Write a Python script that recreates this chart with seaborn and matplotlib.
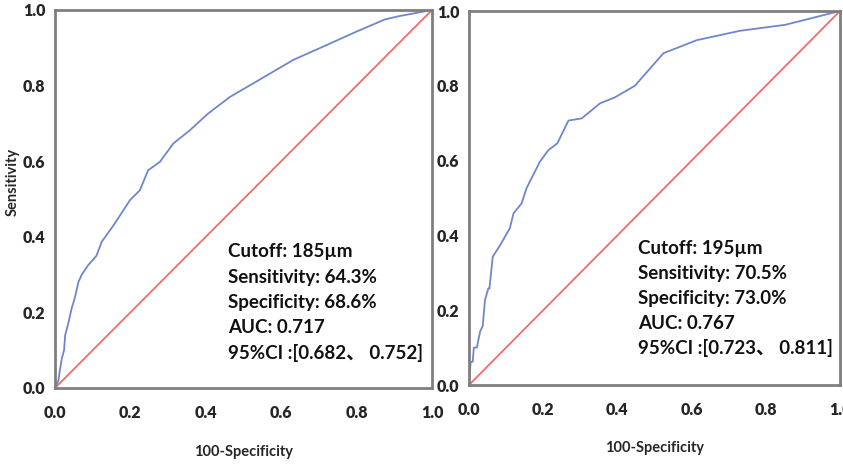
import matplotlib
matplotlib.use("Agg")
import matplotlib.pyplot as plt
import seaborn as sns
import pandas as pd

# ROC curve, left panel
fpr_left = [0.0, 0.009, 0.013, 0.018, 0.024, 0.027, 0.035, 0.044, 0.053, 0.062, 0.071,
            0.088, 0.11, 0.124, 0.155, 0.199, 0.225, 0.247, 0.278, 0.314, 0.358, 0.406,
            0.464, 0.526, 0.632, 0.711, 0.80, 0.875, 0.914, 1.0]
tpr_left = [0.0, 0.02, 0.047, 0.078, 0.10, 0.14, 0.17, 0.21, 0.24, 0.28, 0.30,
            0.325, 0.35, 0.387, 0.43, 0.497, 0.523, 0.576, 0.598, 0.647, 0.682, 0.726,
            0.77, 0.806, 0.868, 0.903, 0.943, 0.975, 0.984, 1.0]

# ROC curve, right panel
fpr_right = [0.0, 0.0045, 0.01, 0.013, 0.021, 0.03, 0.037, 0.043, 0.052, 0.055, 0.064,
             0.084, 0.11, 0.12, 0.142, 0.155, 0.191, 0.214, 0.238, 0.268, 0.304, 0.353,
             0.393, 0.447, 0.524, 0.614, 0.73, 0.852, 1.0]
tpr_right = [0.0, 0.062, 0.062, 0.10, 0.10, 0.143, 0.158, 0.227, 0.258, 0.258, 0.343,
             0.374, 0.419, 0.459, 0.486, 0.526, 0.597, 0.628, 0.646, 0.707, 0.713, 0.753,
             0.769, 0.80, 0.887, 0.922, 0.947, 0.963, 1.0]

text_left = ["Cutoff: 185µm", "Sensitivity: 64.3%", "Specificity: 68.6%",
             "AUC: 0.717", "95%CI :[0.682、 0.752]"]
text_right = ["Cutoff: 195µm", "Sensitivity: 70.5%", "Specificity: 73.0%",
              "AUC: 0.767", "95%CI :[0.723、 0.811]"]

ticks = [0.0, 0.2, 0.4, 0.6, 0.8, 1.0]
diag = [0.0, 1.0]

sns.set_style("white")
plt.rcParams['font.family'] = ['Lato', 'Noto Sans CJK SC', 'DejaVu Sans']

blue = "#6f86cc"
red = "#f26b6b"
grey = "#7f7f7f"

fig = plt.figure(figsize=(8.43, 4.66), dpi=100)
ax1 = fig.add_axes([55 / 843, 78 / 466, 377 / 843, 378 / 466])
ax2 = fig.add_axes([469 / 843, 81 / 466, 371 / 843, 374 / 466])

panels = [(ax1, fpr_left, tpr_left, text_left, (0.459, 0.36)),
          (ax2, fpr_right, tpr_right, text_right, (0.456, 0.366))]

for ax, fx, ty, lines, (tx, ty0) in panels:
    df = pd.DataFrame({"fpr": fx, "tpr": ty})
    sns.lineplot(data=df, x="fpr", y="tpr", sort=False, estimator=None,
                 color=blue, linewidth=1.3, ax=ax)
    sns.lineplot(x=diag, y=diag, color=red, linewidth=1.3, ax=ax)
    ax.set_xlim(0, 1)
    ax.set_ylim(0, 1)
    ax.set_xticks(ticks)
    ax.set_yticks(ticks)
    ax.set_xticklabels([f"{t:.1f}" for t in ticks], fontweight="heavy")
    ax.set_yticklabels([f"{t:.1f}" for t in ticks], fontweight="heavy")
    ax.tick_params(axis="both", direction="out", length=5, width=1.3, color=grey,
                   labelsize=11.5, pad=2)
    ax.tick_params(axis="x", pad=7)
    for sp in ax.spines.values():
        sp.set_color(grey)
        sp.set_linewidth(2)
    ax.set_xlabel("100-Specificity", fontsize=10.5, fontweight="bold", va="center")
    ax.xaxis.set_label_coords(0.5, -(452 - 388) / 378)
    ax.set_ylabel("")
    for i, s in enumerate(lines):
        ax.text(tx, ty0 - i * 0.067, s, transform=ax.transAxes, fontsize=13.5,
                fontweight="bold", va="center", ha="left", color="#111111")

ax1.set_ylabel("Sensitivity", fontsize=10.5, fontweight="bold", va="center")
ax1.yaxis.set_label_coords(-0.112, 0.545)

fig.savefig("out.png", dpi=100)
